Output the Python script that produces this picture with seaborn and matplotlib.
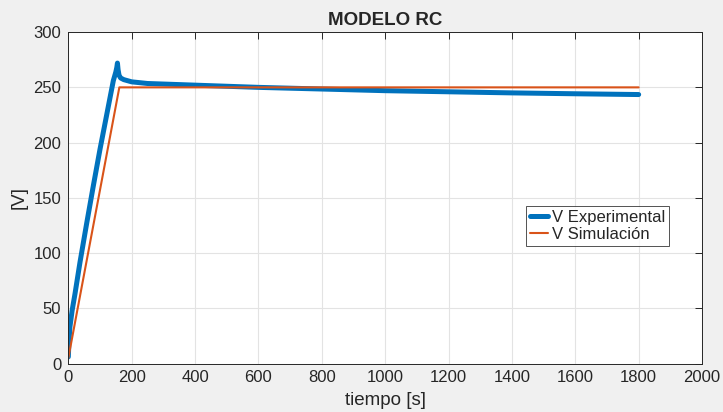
import pandas as pd
import seaborn as sns
import matplotlib.pyplot as plt

# Data
t_exp = [0, 2, 5, 12, 21, 37, 58, 79, 100, 121, 142, 150, 153, 155, 157, 160, 165,
         175, 200, 250, 300, 400, 500, 600, 800, 1000, 1200, 1400, 1600, 1800]
v_exp = [6, 20, 33, 48, 63, 92, 127, 161, 194, 225, 256, 264, 268, 272, 266, 261, 258.5,
         257, 255, 253.5, 253, 252, 251, 250, 248.5, 247, 246, 245, 244.2, 243.5]

t_sim = [0, 161, 1800]
v_sim = [5, 250, 250]

x_ticks = list(range(0, 2001, 200))
y_ticks = list(range(0, 301, 50))

df_exp = pd.DataFrame({'t': t_exp, 'v': v_exp})
df_sim = pd.DataFrame({'t': t_sim, 'v': v_sim})

sns.set_style('white')
plt.rcParams['font.family'] = ['Liberation Sans', 'DejaVu Sans']

fig = plt.figure(figsize=(7.23, 4.12), dpi=100, facecolor='#f0f0f0')
ax = fig.add_axes([0.0945, 0.1177, 0.971 - 0.0945, 0.922 - 0.1177])
ax.set_facecolor('white')

sns.lineplot(data=df_exp, x='t', y='v', ax=ax, color='#0072BD', linewidth=3.6,
             label='V Experimental', estimator=None, sort=False)
sns.lineplot(data=df_sim, x='t', y='v', ax=ax, color='#D95319', linewidth=1.5,
             label='V Simulación', estimator=None, sort=False)

ax.set_xlim(0, 2000)
ax.set_ylim(0, 300)
ax.set_xticks(x_ticks)
ax.set_yticks(y_ticks)
ax.grid(True, color='#e3e3e3', linewidth=0.8)
ax.set_axisbelow(True)
ax.tick_params(direction='in', length=5, width=0.7, color='#262626', labelsize=12,
               labelcolor='#262626', top=True, right=True, pad=5)
for s in ax.spines.values():
    s.set_color('#262626')
    s.set_linewidth(0.7)

ax.set_title('MODELO RC', fontsize=13.5, fontweight='bold', pad=5)
ax.set_xlabel('tiempo [s]', fontsize=13.5, labelpad=5, color='#262626')
ax.set_ylabel('[V]', fontsize=13.5, labelpad=4, color='#262626')

leg = ax.legend(loc='lower left', bbox_to_anchor=(0.722, 0.355), fontsize=12,
                frameon=True, fancybox=False, handlelength=1.1, handletextpad=0.2,
                borderpad=0.25, labelspacing=0.1, borderaxespad=0)
leg.get_frame().set_edgecolor('#262626')
leg.get_frame().set_linewidth(0.7)

fig.savefig('out.png', dpi=100, facecolor=fig.get_facecolor())
